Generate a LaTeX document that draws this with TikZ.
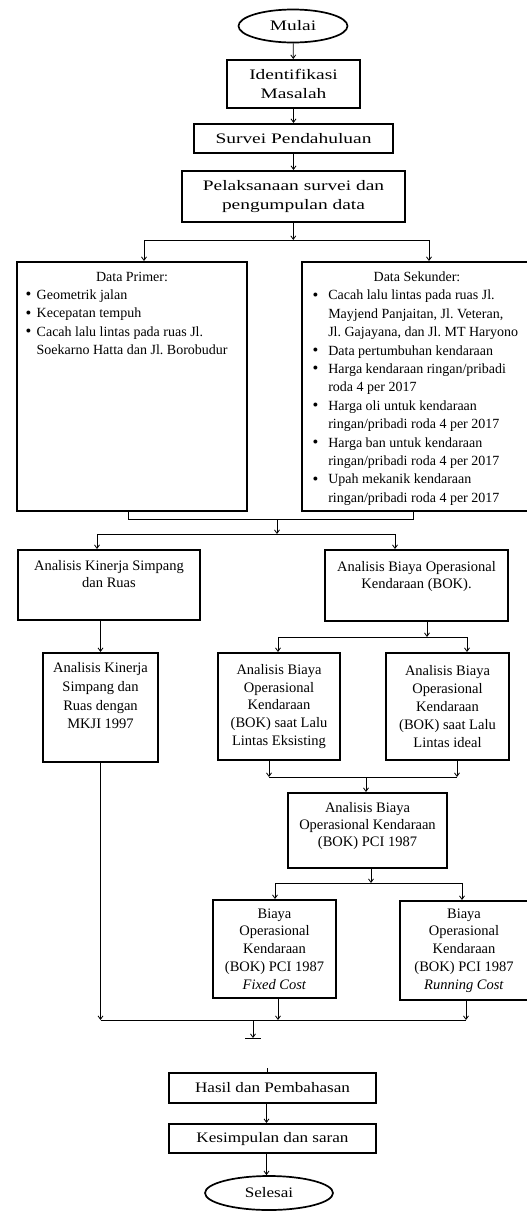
\documentclass[tikz,border=0pt]{standalone}
\usepackage{fontspec}
\setmainfont{Liberation Serif}
\newfontfamily\wideA{Liberation Serif}[FakeStretch=1.34]
\newfontfamily\wideB{Liberation Serif}[FakeStretch=1.18]
\usetikzlibrary{arrows.meta,shapes.geometric}
\frenchspacing
\newcommand{\tbox}[4]{\parbox[c][#1][t]{#2}{\parskip=0pt\vspace*{#3}\centering #4\par}}
\newcommand{\dbox}[5]{\parbox[c][#1][t]{#2}{\parskip=0pt\frenchspacing\vspace*{#3}{\centering #4\par}#5\par}}
\newcommand{\bul}[3]{\par\noindent\hangindent=\dimexpr#1+#2\relax\hangafter=1
  \hspace*{#1}\makebox[#2][l]{\raisebox{-0.4pt}{\fontsize{16.5}{16.5}\selectfont •}}#3}
\tikzset{
  box/.style={draw, line width=2pt, inner sep=0pt, align=center, font=\fontsize{14.5}{17.8}\selectfont},
  oval/.style={draw, ellipse, line width=1.7pt, inner sep=0pt},
  ln/.style={line width=0.8pt},
  arr/.style={line width=0.8pt, -{Straight Barb[length=3.5pt,width=5pt]}},
  bigf/.style={font={\fontsize{14.5}{19}\wideA}},
  midf/.style={font={\fontsize{14.5}{18}\wideB}},
  dataf/.style={font={\fontsize{14}{18.4}\selectfont}}
}
\begin{document}
\begin{tikzpicture}[x=1pt,y=-1pt]
\useasboundingbox (0,0) rectangle (527,1211);
\clip (0,0) rectangle (527,1211);

% top chain
\node[oval, bigf, minimum width=109pt, minimum height=33pt] (mulai) at (293,26) {Mulai};
\node[box, bigf, minimum width=133pt, minimum height=48pt] (idm) at (293.5,84) {Identifikasi\\Masalah};
\node[box, bigf, minimum width=199pt, minimum height=29pt] (sp) at (293.5,138.5) {Survei Pendahuluan};
\node[box, bigf, minimum width=223pt, minimum height=51pt] (pel) at (293.5,196.5) {Pelaksanaan survei dan\\pengumpulan data};

% data boxes
\node[box, dataf, minimum width=230pt, minimum height=249pt] (dp) at (132,386.5)
 {\dbox{249pt}{228pt}{9.8pt}{Data Primer:}{%
  \bul{7.5pt}{11.2pt}{Geometrik jalan}
  \bul{7.5pt}{11.2pt}{Kecepatan tempuh}
  \bul{7.5pt}{11.2pt}{Cacah lalu lintas pada ruas Jl.\\Soekarno Hatta dan Jl. Borobudur}}};

\node[box, dataf, minimum width=230pt, minimum height=249pt] (ds) at (417,386.5)
 {\dbox{249pt}{228pt}{9.8pt}{Data Sekunder:}{%
  \bul{9.5pt}{15.8pt}{Cacah lalu lintas pada ruas Jl.\\Mayjend Panjaitan, Jl. Veteran,\\Jl. Gajayana, dan Jl. MT Haryono}
  \bul{9.5pt}{15.8pt}{Data pertumbuhan kendaraan}
  \bul{9.5pt}{15.8pt}{Harga kendaraan ringan/pribadi\\roda 4 per 2017}
  \bul{9.5pt}{15.8pt}{Harga oli untuk kendaraan\\ringan/pribadi roda 4 per 2017}
  \bul{9.5pt}{15.8pt}{Harga ban untuk kendaraan\\ringan/pribadi roda 4 per 2017}
  \bul{9.5pt}{15.8pt}{Upah mekanik kendaraan\\ringan/pribadi roda 4 per 2017}}};

% analysis boxes
\node[box, font=\fontsize{14.5}{17}\selectfont, minimum width=182pt, minimum height=70pt] (aks) at (109,585)
 {\tbox{70pt}{180pt}{10.9pt}{Analisis Kinerja Simpang\\dan Ruas}};
\node[box, font=\fontsize{14.5}{17}\selectfont, minimum width=183pt, minimum height=71pt] (bok) at (416.5,585.5)
 {\tbox{71pt}{181pt}{11.9pt}{Analisis Biaya Operasional\\Kendaraan (BOK).}};
\node[box, font=\fontsize{14.5}{18.6}\selectfont, minimum width=115pt, minimum height=109pt] (mkji) at (100.5,707.5)
 {\tbox{109pt}{113pt}{9.9pt}{Analisis Kinerja\\Simpang dan\\Ruas dengan\\MKJI 1997}};
\node[box, minimum width=122pt, minimum height=107pt] (eks) at (279,706.5)
 {Analisis Biaya\\Operasional\\Kendaraan\\(BOK) saat Lalu\\Lintas Eksisting};
\node[box, minimum width=123pt, minimum height=107pt] (ide) at (447.5,706.5)
 {Analisis Biaya\\Operasional\\Kendaraan\\(BOK) saat Lalu\\Lintas ideal};
\node[box, font=\fontsize{14.5}{16.8}\selectfont, minimum width=159pt, minimum height=75pt] (pci) at (367.5,830.5)
 {\tbox{75pt}{157pt}{9.9pt}{Analisis Biaya\\Operasional Kendaraan\\(BOK) PCI 1987}};
\node[box, minimum width=123pt, minimum height=98pt] (fix) at (274.5,949)
 {Biaya\\Operasional\\Kendaraan\\(BOK) PCI 1987\\\textit{Fixed Cost}};
\node[box, minimum width=128pt, minimum height=99pt] (run) at (464,950.5)
 {Biaya\\Operasional\\Kendaraan\\(BOK) PCI 1987\\\textit{Running Cost}};

% bottom chain
\node[box, midf, minimum width=207pt, minimum height=30pt] (hasil) at (272.5,1088) {Hasil dan Pembahasan};
\node[box, midf, minimum width=207pt, minimum height=29pt] (kes) at (272.5,1138.5) {Kesimpulan dan saran};
\node[oval, midf, minimum width=128pt, minimum height=34pt] (sel) at (269,1193) {Selesai};

% junction coordinates
\coordinate (j1) at (293.3,240);
\coordinate (j1l) at (144,240);
\coordinate (j1r) at (429,240);
\coordinate (j2) at (277,519);
\coordinate (j2l) at (128,519);
\coordinate (j2r) at (413,519);
\coordinate (j3) at (277,534);
\coordinate (j3l) at (97,534);
\coordinate (j3r) at (395,534);
\coordinate (j4) at (427,637);
\coordinate (j4l) at (278,637);
\coordinate (j4r) at (467,637);
\coordinate (j5) at (366,777);
\coordinate (j5l) at (269,777);
\coordinate (j5r) at (457,777);
\coordinate (j6) at (371,883);
\coordinate (j6l) at (275,883);
\coordinate (j6r) at (462,883);
\coordinate (j7l) at (100.5,1020);
\coordinate (j7a) at (278,1020);
\coordinate (j7r) at (466,1020);
\coordinate (j7) at (253,1020);
\coordinate (j7e) at (253,1038);
\coordinate (tl) at (245,1038);
\coordinate (tr) at (261,1038);
\coordinate (j8) at (267,1068);
\coordinate (sx) at (266.5,0);

% connectors
\draw[arr] (mulai) -- (idm);
\draw[arr] (idm) -- (sp);
\draw[arr] (sp) -- (pel);
\draw[arr] (pel.south -| j1) -- (j1);
\draw[ln] (j1l) -- (j1r);
\draw[arr] (j1l) -- (j1l |- dp.north);
\draw[arr] (j1r) -- (j1r |- ds.north);

\draw[ln] (dp.south -| j2l) -- (j2l) -- (j2r) -- (ds.south -| j2r);
\draw[arr] (j2) -- (j3);
\draw[ln] (j3l) -- (j3r);
\draw[arr] (j3l) -- (j3l |- aks.north);
\draw[arr] (j3r) -- (j3r |- bok.north);

\draw[arr] (aks.south -| mkji.north) -- (mkji.north);
\draw[arr] (bok.south -| j4) -- (j4);
\draw[ln] (j4l) -- (j4r);
\draw[arr] (j4l) -- (j4l |- eks.north);
\draw[arr] (j4r) -- (j4r |- ide.north);

\draw[arr] (eks.south -| j5l) -- (j5l);
\draw[arr] (ide.south -| j5r) -- (j5r);
\draw[ln] (j5l) -- (j5r);
\draw[arr] (j5) -- (j5 |- pci.north);

\draw[arr] (pci.south -| j6) -- (j6);
\draw[ln] (j6l) -- (j6r);
\draw[arr] (j6l) -- (j6l |- fix.north);
\draw[arr] (j6r) -- (j6r |- run.north);

\draw[arr] (mkji.south -| j7l) -- (j7l);
\draw[arr] (fix.south -| j7a) -- (j7a);
\draw[arr] (run.south -| j7r) -- (j7r);
\draw[ln] (j7l) -- (j7r);
\draw[arr] (j7) -- (j7e);
\draw[ln] (tl) -- (tr);
\draw[ln] (j8) -- (j8 |- hasil.north);

\draw[arr] (hasil.south -| sx) -- (kes.north -| sx);
\draw[arr] (kes.south -| sx) -- (sel.north -| sx);
\end{tikzpicture}
\end{document}
